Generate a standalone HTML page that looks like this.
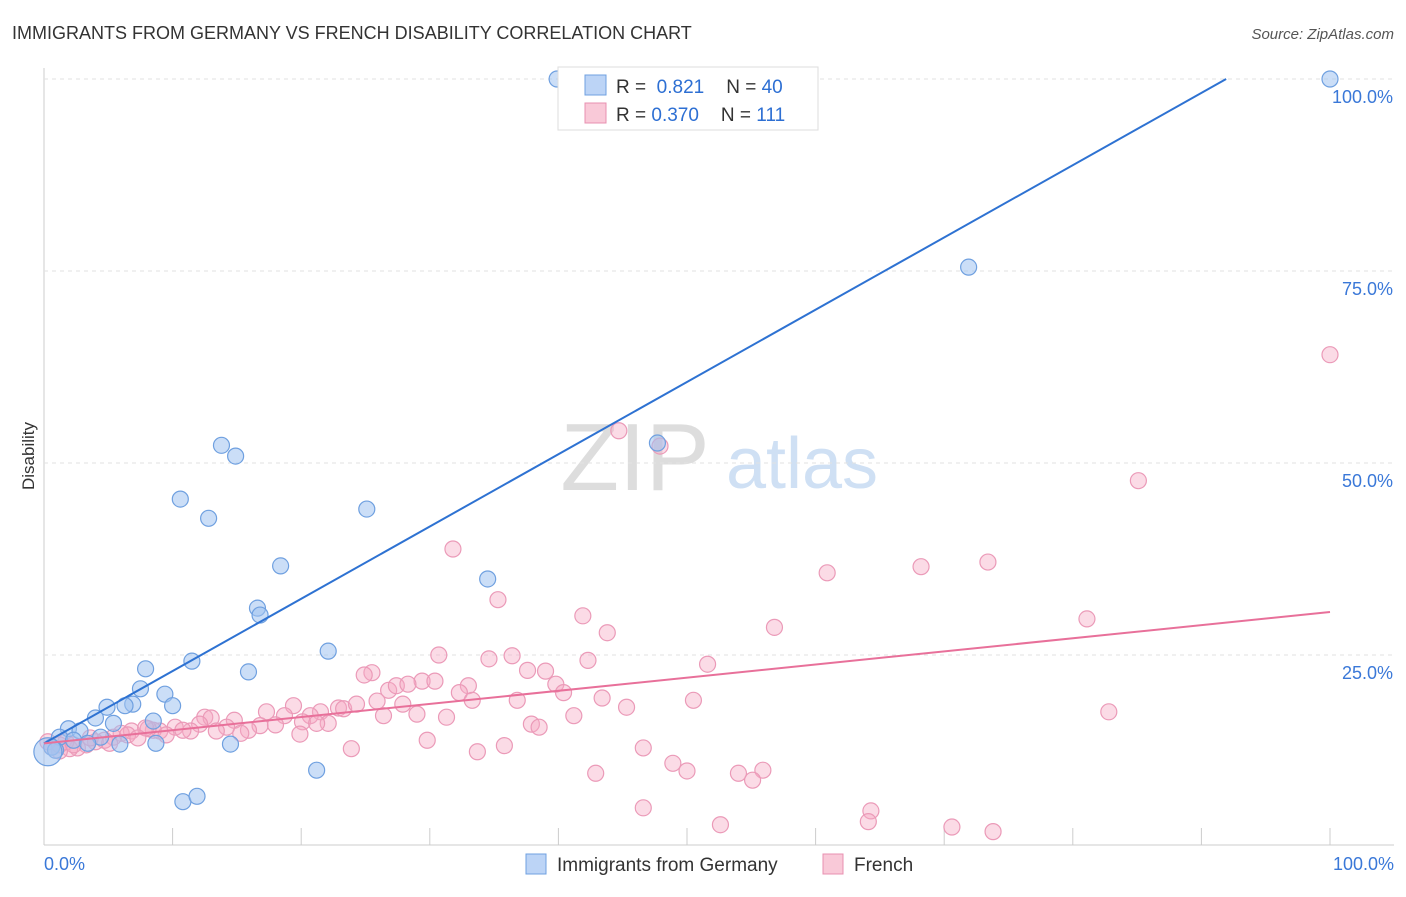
<!DOCTYPE html>
<html><head><meta charset="utf-8"><style>
body{margin:0;background:#fff;font-family:"Liberation Sans",sans-serif;}
svg text{font-family:"Liberation Sans",sans-serif;}
</style></head><body>
<svg id="chart" width="1406" height="892" xmlns="http://www.w3.org/2000/svg">
<text x="12" y="39" font-size="18" fill="#333">IMMIGRANTS FROM GERMANY VS FRENCH DISABILITY CORRELATION CHART</text>
<text x="1394" y="39" font-size="15" fill="#555" font-style="italic" text-anchor="end">Source: ZipAtlas.com</text>
<text x="34" y="456" font-size="17" fill="#333" text-anchor="middle" transform="rotate(-90 34 456)">Disability</text>
<g>
<text x="635" y="490" font-size="96" fill="#ddd" font-family="Liberation Serif" text-anchor="middle">ZIP</text>
<text x="802" y="488" font-size="72" fill="#cfe0f4" text-anchor="middle">atlas</text>
</g>
<g id="grid"></g>
<g id="marks"></g>
<g id="lines"></g>
<g>
<rect x="558" y="67" width="260" height="63" fill="#fff" stroke="#ddd"/>
<rect x="585" y="75" width="21" height="20" fill="#bcd4f6" stroke="#6fa0e0"/>
<rect x="585" y="103" width="21" height="20" fill="#f9c9d8" stroke="#e890b0"/>
<text x="616" y="93" font-size="19" fill="#333">R = <tspan fill="#2d6fd3">&#160;0.821</tspan><tspan dx="22">N = </tspan><tspan fill="#2d6fd3">40</tspan></text>
<text x="616" y="121" font-size="19" fill="#333">R = <tspan fill="#2d6fd3">0.370</tspan><tspan dx="22">N = </tspan><tspan fill="#2d6fd3">111</tspan></text>
</g>
<g>
<rect x="526" y="854" width="20" height="20" fill="#bcd4f6" stroke="#6fa0e0"/>
<text x="557" y="871" font-size="19" fill="#333">Immigrants from Germany</text>
<rect x="823" y="854" width="20" height="20" fill="#f9c9d8" stroke="#e890b0"/>
<text x="854" y="871" font-size="19" fill="#333">French</text>
</g>
</svg>
<script>
const yTicks=[25,50,75,100];
const yTickLabels=["25.0%","50.0%","75.0%","100.0%"];
const xTickLabels=["0.0%","100.0%"];
const blueX=[39.9,100,71.9,47.7,13.8,14.9,10.6,12.8,25.1,18.4,34.5,16.6,16.8,22.1,11.5,15.9,7.9,7.5,9.4,4.9,6.9,6.3,10.0,4.0,5.4,8.5,1.9,2.8,1.2,2.3,4.4,5.9,8.7,14.5,0.6,0.9,3.4,21.2,10.8,11.9];
const blueY=[100,100,75.5,52.6,52.3,50.9,45.3,42.8,44.0,36.6,34.9,31.1,30.2,25.5,24.2,22.8,23.2,20.6,19.9,18.2,18.6,18.4,18.4,16.8,16.1,16.4,15.4,15.1,14.3,13.9,14.3,13.4,13.5,13.4,13.0,12.6,13.5,10.0,5.9,6.6];
const pinkX=[100,85.1,44.7,47.9,31.8,73.4,68.2,60.9,35.3,41.9,43.8,56.8,81.1,30.7,34.6,36.4,42.3,51.6,39.0,37.6,25.5,24.9,33.0,39.8,26.8,27.4,29.4,28.3,30.4,32.3,33.3,36.8,40.4,43.4,50.5,19.4,21.5,22.9,23.3,24.3,25.9,27.9,45.3,82.8,17.3,18.7,20.7,22.1,26.4,29.0,31.3,41.2,37.9,38.5,12.5,13.0,14.8,16.8,18.0,20.1,21.2,15.9,14.2,12.1,11.4,10.2,9.0,8.5,8.1,6.8,6.0,5.4,4.7,4.0,3.3,2.6,2.0,1.2,0.6,0.3,9.5,10.8,13.4,15.3,19.9,29.8,35.8,23.9,33.7,46.6,48.9,50.0,54.0,55.9,55.1,42.9,46.6,64.3,64.1,52.6,70.6,73.8,7.9,6.5,7.3,1.7,3.6,5.1,1.2,2.3];
const pinkY=[64.1,47.7,54.2,52.2,38.8,37.1,36.5,35.7,32.2,30.1,27.9,28.6,29.7,25.0,24.5,24.9,24.3,23.8,22.9,23.0,22.7,22.4,21.0,21.2,20.4,21.0,21.6,21.2,21.6,20.1,19.1,19.1,20.1,19.4,19.1,18.4,17.6,18.1,18.0,18.6,19.0,18.6,18.2,17.6,17.6,17.1,17.1,16.1,17.1,17.3,16.9,17.1,16.0,15.6,16.9,16.8,16.5,15.8,15.9,16.3,16.1,15.2,15.6,16.0,15.1,15.6,15.1,15.2,15.4,15.1,14.8,14.3,13.9,13.7,13.3,12.9,12.8,12.5,13.0,13.7,14.6,15.2,15.1,14.8,14.7,13.9,13.2,12.8,12.4,12.9,10.9,9.9,9.6,10.0,8.7,9.6,5.1,4.7,3.3,2.9,2.6,2.0,15.5,14.6,14.2,13.7,14.2,13.5,13.3,13.3];
const blueFit=[13.5,0.941];
const pinkFit=[13.5,0.171];
const NS="http://www.w3.org/2000/svg";
const X=v=>44+v*12.86;
const Y=v=>847-v*7.68;
function mk(tag,attrs,parent){const e=document.createElementNS(NS,tag);for(const k in attrs)e.setAttribute(k,attrs[k]);parent.appendChild(e);return e;}
const grid=document.getElementById('grid'),marks=document.getElementById('marks'),lines=document.getElementById('lines');
mk('line',{x1:44,y1:68,x2:44,y2:845,stroke:'#ccc'},grid);
mk('line',{x1:44,y1:845,x2:1394,y2:845,stroke:'#ccc'},grid);
yTicks.forEach((t,i)=>{
 const g=mk('line',{x1:44,y1:Y(t),x2:1394,y2:Y(t),stroke:'#e2e2e2','stroke-dasharray':'4,4'},grid);
 
 
 const tx=mk('text',{x:1393,y:Y(t)+24,'font-size':18,fill:'#3a78d8','text-anchor':'end'},grid);
 tx.textContent=yTickLabels[i];
 
 
});
for(let i=0;i<=10;i++){const l=mk('line',{x1:X(i*10),y1:828,x2:X(i*10),y2:845,stroke:'#ccc'},grid);
 
 }
[[0,'start',44],[100,'end',1394]].forEach((d,i)=>{const t=mk('text',{x:d[2],y:870,'font-size':18,fill:'#3a78d8','text-anchor':d[1]},grid);t.textContent=xTickLabels[i];
 
 });
pinkX.forEach((x,i)=>{const c=mk('circle',{cx:X(x),cy:Y(pinkY[i]),r:8,fill:'rgba(245,170,196,0.42)',stroke:'#eb9ab8','stroke-width':1.2},marks);
 
 });
blueX.forEach((x,i)=>{const c=mk('circle',{cx:X(x),cy:Y(blueY[i]),r:8,fill:'rgba(160,195,240,0.55)',stroke:'#6fa0e0','stroke-width':1.2},marks);
 
 });
const big=mk('circle',{cx:X(0.3),cy:Y(12.4),r:14,fill:'rgba(160,195,240,0.55)',stroke:'#6fa0e0','stroke-width':1.2},marks);


const bx2=(100-blueFit[0])/blueFit[1];
const bl=mk('line',{x1:X(0),y1:Y(blueFit[0]),x2:X(bx2),y2:Y(100),stroke:'#2e72d2','stroke-width':2},lines);


const pl=mk('line',{x1:X(0),y1:Y(pinkFit[0]),x2:X(100),y2:Y(pinkFit[0]+pinkFit[1]*100),stroke:'#e8709a','stroke-width':2},lines);


</script>
</body></html>
